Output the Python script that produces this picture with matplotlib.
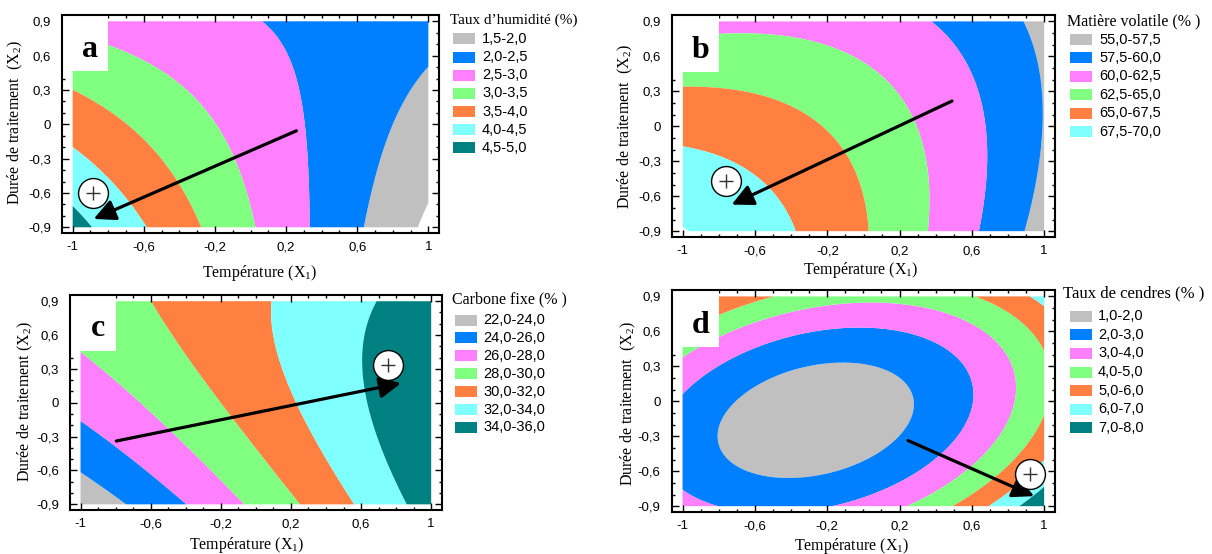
import numpy as np
import matplotlib
matplotlib.use("Agg")
import matplotlib.pyplot as plt
from matplotlib.patches import Rectangle, FancyArrowPatch
from matplotlib.ticker import FixedLocator, MultipleLocator, FuncFormatter

# ---------------- data ----------------
COLORS = ['#C0C0C0', '#0080FF', '#FF80FF', '#80FF80', '#FF8040', '#80FFFF', '#008080']

# (a) moisture
levels_a = [1.5, 2.0, 2.5, 3.0, 3.5, 4.0, 4.5, 5.0]
labels_a = ['1,5-2,0', '2,0-2,5', '2,5-3,0', '3,0-3,5', '3,5-4,0', '4,0-4,5', '4,5-5,0']
# points read on the contour boundaries (X1, X2, level)
a_lvl = [4.5, 4.5, 4.0, 4.0, 4.0, 4.0, 3.5, 3.5, 3.5, 3.5, 3.0, 3.0, 3.0, 3.0, 3.0,
         2.5, 2.5, 2.5, 2.5, 2.5, 2.0, 2.0, 2.0, 2.0, 1.5, 1.5]
a_x = [-1, -0.90, -1, -0.844, -0.694, -0.59, -1, -0.638, -0.423, -0.283, -0.80, -0.60, -0.245, -0.095, 0.027,
       0.111, 0.243, 0.30, 0.327, 0.346, 1, 0.796, 0.69, 0.655, 0.92, 1]
a_y = [-0.72, -0.9, -0.20, -0.34, -0.659, -0.9, 0.30, -0.05, -0.485, -0.89, 0.70, 0.5, 0.08, -0.28, -0.9,
       0.9, 0.5, 0.0, -0.45, -0.9, 0.5, 0.0, -0.46, -0.9, -0.9, -0.72]
arrow_a = [(0.258, -0.057), (-0.882, -0.827)]
optimum_a = (-0.884, -0.60)

# (b) volatile matter
levels_b = [55.0, 57.5, 60.0, 62.5, 65.0, 67.5, 70.0]
labels_b = ['55,0-57,5', '57,5-60,0', '60,0-62,5', '62,5-65,0', '65,0-67,5', '67,5-70,0']
b_lvl = [67.5] * 4 + [65.0] * 5 + [62.5] * 7 + [60.0] * 6 + [57.5] * 4
b_x = [-1, -0.647, -0.481, -0.37, -1, -0.536, -0.242, -0.058, 0.03,
       -0.80, -0.352, 0.016, 0.2, 0.292, 0.347, 0.356,
       0.411, 0.549, 0.641, 0.678, 0.682, 0.641, 0.89, 0.954, 0.99, 0.89]
b_y = [-0.17, -0.387, -0.644, -0.9, 0.347, 0.254, 0.04, -0.245, -0.9,
       0.81, 0.695, 0.496, 0.268, 0.068, -0.5, -0.9,
       0.9, 0.6, 0.3, 0.0, -0.44, -0.9, 0.9, 0.5, 0.0, -0.9]
arrow_b = [(0.490, 0.217), (-0.730, -0.672)]
optimum_b = (-0.761, -0.47)

# (c) fixed carbon
levels_c = [22.0, 24.0, 26.0, 28.0, 30.0, 32.0, 34.0, 36.0]
labels_c = ['22,0-24,0', '24,0-26,0', '26,0-28,0', '28,0-30,0', '30,0-32,0', '32,0-34,0', '34,0-36,0']
c_lvl = [24, 24, 26, 26, 28, 28, 30, 30, 30, 32, 32, 32, 32, 32, 32, 34, 34, 34, 34, 34, 34, 34]
c_x = [-1, -0.729, -1, -0.394, -1, -0.073, -0.589, -0.203, 0.245,
       0.087, 0.14, 0.226, 0.341, 0.456, 0.561,
       0.685, 0.627, 0.608, 0.633, 0.685, 0.771, 0.857]
c_y = [-0.621, -0.9, -0.167, -0.9, 0.455, -0.9, 0.9, 0.0, -0.9,
       0.9, 0.3, 0.0, -0.3, -0.6, -0.9,
       0.9, 0.6, 0.3, 0.0, -0.3, -0.6, -0.9]
arrow_c = [(-0.796, -0.339), (0.828, 0.174)]
optimum_c = (0.752, 0.337)

# (d) ash
levels_d = [1.0, 2.0, 3.0, 4.0, 5.0, 6.0, 7.0, 8.0]
labels_d = ['1,0-2,0', '2,0-3,0', '3,0-4,0', '4,0-5,0', '5,0-6,0', '6,0-7,0', '7,0-8,0']
d_lvl = [2] * 6 + [3] * 6 + [4] * 4 + [5] * 5 + [6] * 4 + [7] * 2
d_x = [-0.810, 0.280, -0.016, -0.477, -0.717, 0.169,
       -1, -1, -0.83, -0.145, 0.603, -0.126,
       -0.126, -1, 0.834, 0.169,
       -0.533, 0.631, -0.819, 1, 0.501,
       0.945, 1, 0.686, 1,
       0.852, 1]
d_y = [-0.30, -0.014, 0.314, -0.671, -0.043, -0.443,
       0.057, -0.757, -0.9, -0.9, 0.1, 0.614,
       0.83, 0.36, 0.1, -0.9,
       0.9, 0.9, 0.729, 0.386, -0.9,
       0.9, 0.786, -0.9, -0.557,
       -0.9, -0.729]
arrow_d = [(0.247, -0.337), (0.945, -0.814)]
optimum_d = (0.922, -0.623)

x_ticks = [-1, -0.6, -0.2, 0.2, 0.6, 1]
y_ticks = [-0.9, -0.6, -0.3, 0, 0.3, 0.6, 0.9]

# ---------------- figure ----------------
W, H = 1212, 554
fig = plt.figure(figsize=(W / 100, H / 100), dpi=100)
SANS = ['Liberation Sans', 'DejaVu Sans']
SERIF = ['Liberation Serif', 'DejaVu Serif']


def quad_surface(xs, ys, lv, X, Y):
    xs, ys, lv = map(np.asarray, (xs, ys, lv))
    A = np.column_stack([np.ones_like(xs), xs, ys, xs * ys, xs ** 2, ys ** 2])
    c, *_ = np.linalg.lstsq(A, lv, rcond=None)
    return c[0] + c[1] * X + c[2] * Y + c[3] * X * Y + c[4] * X ** 2 + c[5] * Y ** 2


def tick_fmt(v, pos):
    if abs(v) < 1e-9:
        return '0'
    s = f"{v:.1f}".rstrip('0').rstrip('.')
    return s.replace('.', ',')


gx = np.linspace(-1, 1, 401)
gy = np.linspace(-0.9, 0.9, 361)
GX, GY = np.meshgrid(gx, gy)

panels = [
    dict(rect=[62, 15, 439, 233], xs=a_x, ys=a_y, lv=a_lvl, levels=levels_a, labels=labels_a,
         arrow=arrow_a, opt=optimum_a, letter='a', title='Taux d\u2019humidit\u00e9 (%)', tsize=11,
         leg=(450, 20, 453, 38.8, 18.2, 482), ylab='Dur\u00e9e de traitement  ($\\mathregular{X_2}$)',
         xlc=(260, 273), ylc=(15, 123)),
    dict(rect=[672, 15, 1055, 237], xs=b_x, ys=b_y, lv=b_lvl, levels=levels_b, labels=labels_b,
         arrow=arrow_b, opt=optimum_b, letter='b', title='Mati\u00e8re volatile (% )', tsize=11.5,
         leg=(1066.7, 21.7, 1070, 39.5, 18.4, 1099), ylab='Dur\u00e9e de traitement  ($\\mathregular{X_2}$)',
         xlc=(861, 270), ylc=(625, 127)),
    dict(rect=[70, 295, 441.7, 510], xs=c_x, ys=c_y, lv=c_lvl, levels=levels_c, labels=labels_c,
         arrow=arrow_c, opt=optimum_c, letter='c', title='Carbone fixe (% )', tsize=11.5,
         leg=(451.7, 299.3, 455, 320, 17.9, 483.3), ylab='Dur\u00e9e de traitement ($\\mathregular{X_2}$)',
         xlc=(247, 545), ylc=(25, 402)),
    dict(rect=[671.7, 290, 1055, 512], xs=d_x, ys=d_y, lv=d_lvl, levels=levels_d, labels=labels_d,
         arrow=arrow_d, opt=optimum_d, letter='d', title='Taux de cendres (% )', tsize=12,
         leg=(1062.7, 293.3, 1070, 316.2, 18.6, 1098), ylab='Dur\u00e9e de traitement  ($\\mathregular{X_2}$)',
         xlc=(852, 546), ylc=(628, 404)),
]

XLIM = (-1.06, 1.06)
YLIM = (-0.95, 0.955)

for p in panels:
    l, t, r, b = p['rect']
    ax = fig.add_axes([l / W, 1 - b / H, (r - l) / W, (b - t) / H])
    Z = quad_surface(p['xs'], p['ys'], p['lv'], GX, GY)
    nlev = len(p['levels']) - 1
    ax.contourf(GX, GY, Z, levels=p['levels'], colors=COLORS[:nlev], antialiased=True, zorder=1)
    ax.set_xlim(*XLIM)
    ax.set_ylim(*YLIM)

    # letter box
    ax.add_patch(Rectangle((XLIM[0], 0.462), -0.8 - XLIM[0], YLIM[1] - 0.462,
                           facecolor='white', edgecolor='none', zorder=2))
    ax.text(-0.9, 0.59, p['letter'], ha='center', va='baseline', fontsize=23,
            fontweight='bold', family=SERIF, zorder=3)

    # arrow and optimum marker
    (x0, y0), (x1, y1) = p['arrow']
    ax.add_patch(FancyArrowPatch((x0, y0), (x1, y1),
                                 arrowstyle='-|>,head_length=0.65,head_width=0.32',
                                 mutation_scale=20, lw=2.3, color='black',
                                 shrinkA=0, shrinkB=0, zorder=4))
    ax.plot([p['opt'][0]], [p['opt'][1]], marker='o', ms=21.5, mfc='white', mec='black',
            mew=1.0, zorder=5, ls='none')
    ax.plot([p['opt'][0]], [p['opt'][1]], marker='+', ms=10, color='#333333',
            mew=1.0, zorder=6, ls='none')

    # ticks
    ax.xaxis.set_major_locator(FixedLocator(x_ticks))
    ax.yaxis.set_major_locator(FixedLocator(y_ticks))
    ax.xaxis.set_minor_locator(MultipleLocator(0.1))
    ax.yaxis.set_minor_locator(MultipleLocator(0.1))
    ax.xaxis.set_major_formatter(FuncFormatter(tick_fmt))
    ax.yaxis.set_major_formatter(FuncFormatter(tick_fmt))
    ax.tick_params(which='both', direction='in', top=True, right=True, width=1.0)
    ax.tick_params(which='major', length=5)
    ax.tick_params(which='minor', length=2.5)
    ax.tick_params(axis='x', which='major', pad=6)
    ax.tick_params(axis='y', which='major', pad=8)
    for lab in ax.get_xticklabels() + ax.get_yticklabels():
        lab.set_fontfamily(SANS)
        lab.set_fontsize(9.5)
    for s in ax.spines.values():
        s.set_linewidth(1.5)
        s.set_zorder(7)

    # axis labels
    ax.set_xlabel('Temp\u00e9rature ($\\mathregular{X_1}$)', family=SERIF, fontsize=11.5)
    ax.set_ylabel(p['ylab'], family=SERIF, fontsize=11.5)
    ax.xaxis.label.set_va('center')
    ax.yaxis.label.set_va('center')
    xlx, xly = p['xlc']
    ylx, yly = p['ylc']
    ax.xaxis.set_label_coords((xlx - l) / (r - l), (b - xly) / (b - t))
    ax.yaxis.set_label_coords((ylx - l) / (r - l), (b - yly) / (b - t))

    # legend (drawn in figure pixels)
    tx, ty, px0, cy0, step, lx = p['leg']
    fig.text(tx / W, 1 - ty / H, p['title'], ha='left', va='center', family=SERIF,
             fontsize=p['tsize'])
    for i, (lab, col) in enumerate(zip(p['labels'], COLORS)):
        cy = cy0 + i * step
        fig.add_artist(Rectangle((px0 / W, 1 - (cy + 5.5) / H), 22 / W, 11 / H,
                                 transform=fig.transFigure, facecolor=col, edgecolor='none'))
        fig.text(lx / W, 1 - cy / H, lab, ha='left', va='center', family=SANS, fontsize=10.5)

fig.savefig('out.png', dpi=100)
